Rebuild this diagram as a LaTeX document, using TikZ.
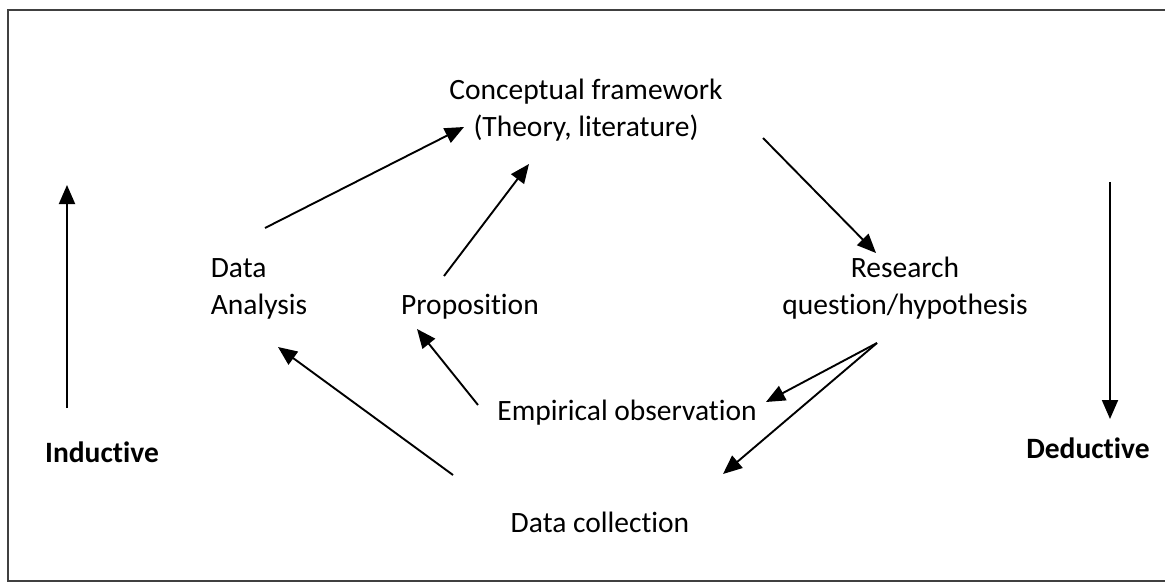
\documentclass[tikz,border=0pt]{standalone}
\usepackage{fontspec}
\setmainfont{Carlito}[Ligatures=NoCommon]
\usetikzlibrary{arrows.meta}

\tikzset{
  lbl/.style={font=\fontsize{29.5}{37}\selectfont, inner sep=0pt},
  boldlbl/.style={lbl, font=\fontsize{29.5}{37}\selectfont\bfseries},
  flow/.style={line width=1.9pt, -{Triangle[length=19pt,width=16pt]}}
}

\begin{document}
\begin{tikzpicture}[x=1pt,y=1pt]
				\useasboundingbox (0,0) rectangle (1165,-583);
				\draw [black!75, line width=1.4pt] (1165,-10) -- (8,-10) -- (8,-581) -- (1165,-581);
				% texts
				\node [lbl, align=center] (concept) at (586,-110) {Conceptual framework\\(Theory, literature)};
				\node [lbl, align=left] (analysis) at (259,-289) {Data\\Analysis};
				\node [lbl] (prop) at (470,-307) {Proposition};
				\node [lbl, align=center] (research) at (905,-288) {Research\\question/hypothesis};
				\node [lbl] (empir) at (627,-413) {Empirical observation};
				\node [lbl] (collect) at (600,-522) {Data collection};
				\node [boldlbl] (induct) at (102,-452) {Inductive};
				\node [boldlbl] (deduct) at (1088,-448) {Deductive};
				% arrow ends
				\coordinate (an-out) at (265,-228);
				\coordinate (co-in1) at (464,-127);
				\coordinate (pr-out) at (444,-276);
				\coordinate (co-in2) at (529,-164);
				\coordinate (co-out) at (763,-138);
				\coordinate (re-in) at (876,-253);
				\coordinate (re-out) at (877,-343);
				\coordinate (em-in) at (766,-402);
				\coordinate (cl-in) at (723,-474);
				\coordinate (em-out) at (478,-405);
				\coordinate (pr-in) at (417,-329);
				\coordinate (cl-out) at (453,-475);
				\coordinate (an-in) at (278,-347);
				\coordinate (ind-s) at (67,-408);
				\coordinate (ind-e) at (67,-185);
				\coordinate (ded-s) at (1110,-182);
				\coordinate (ded-e) at (1110,-419);
				% arrows
				\draw [flow] (an-out) -- (co-in1);
				\draw [flow] (pr-out) -- (co-in2);
				\draw [flow] (co-out) -- (re-in);
				\draw [flow] (re-out) -- (em-in);
				\draw [flow] (re-out) -- (cl-in);
				\draw [flow] (em-out) -- (pr-in);
				\draw [flow] (cl-out) -- (an-in);
				\draw [flow] (ind-s) -- (ind-e);
				\draw [flow] (ded-s) -- (ded-e);
\end{tikzpicture}
\end{document}
